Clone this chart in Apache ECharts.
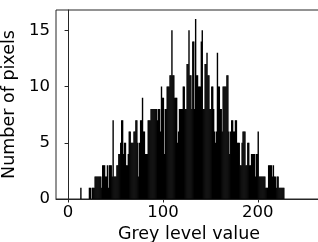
<!DOCTYPE html>
<html>
<head>
<meta charset="utf-8">
<script src="https://cdn.jsdelivr.net/npm/echarts@6/dist/echarts.min.js"></script>
<style>
  html, body { margin: 0; padding: 0; background: #fff; }
  #hist { width: 318px; height: 242px; }
</style>
</head>
<body>
<div id="hist"></div>
<script>
// pixel count for each grey level 0..255
var pixelCounts = [
  0,0,0,0,0,0,0,0,0,0,0,0,0,1,0,0,
  0,0,0,0,0,0,1,1,0,1,1,1,2,2,2,2,
  2,2,2,1,3,3,3,2,2,3,1,3,3,3,2,7,
  2,2,2,3,3,4,4,5,7,7,4,5,5,3,3,4,
  6,6,5,5,5,6,6,7,7,5,2,5,7,7,9,6,
  6,4,4,4,7,7,7,8,8,8,8,8,8,8,7,8,
  8,6,10,9,9,4,8,8,10,10,10,11,11,15,11,11,
  9,9,9,5,6,8,8,8,8,10,10,8,8,12,12,15,
  11,11,8,14,14,8,16,11,11,10,10,10,14,15,8,8,
  12,12,13,11,11,8,8,10,10,8,6,5,6,13,10,10,
  8,8,6,10,10,10,10,11,11,6,4,6,7,7,6,6,
  7,7,5,5,5,3,3,5,6,6,6,3,3,5,5,3,
  3,4,4,4,4,2,4,4,6,2,2,2,2,2,2,2,
  1,1,1,3,3,3,3,2,3,2,2,1,2,2,1,1,
  1,1,1,1,0,0,0,0,0,0,0,0,0,0,0,0,
  0,0,0,0,0,0,0,0,0,0,0,0,0,0,0,0
]
var xTicks = [0, 100, 200]
var yTicks = [0, 5, 10, 15]

// bins are one grey level wide, bar sits at the bin centre
var data = []
for (var g = 0; g < pixelCounts.length; g++) {
  data.push([g + 0.5, pixelCounts[g]])
}

var font = 'DejaVu Sans'
var spine = '#262626'

var chart = echarts.init(document.getElementById('hist'))
chart.setOption({
  animation: false,
  backgroundColor: '#fff',
  grid: {
    left: 56, top: 10, width: 266, height: 189,
    outerBoundsMode: 'none',
    containLabel: false,
    show: true, borderColor: spine, borderWidth: 1, backgroundColor: 'transparent'
  },
  xAxis: {
    type: 'value',
    min: -12.75,
    max: 267.75,
    name: 'Grey level value',
    nameLocation: 'middle',
    nameGap: 20,
    nameTextStyle: { fontFamily: font, fontSize: 17.5, color: '#000' },
    axisLine: { show: true, lineStyle: { color: spine, width: 1 } },
    axisTick: { show: true, length: 3.5, lineStyle: { color: spine }, customValues: xTicks },
    axisLabel: { fontFamily: font, fontSize: 16.5, color: '#000', margin: 5, customValues: xTicks },
    splitLine: { show: false }
  },
  yAxis: {
    type: 'value',
    min: 0,
    max: 16.8,
    name: 'Number of pixels',
    nameLocation: 'middle',
    nameGap: 27,
    nameTextStyle: { fontFamily: font, fontSize: 17.5, color: '#000' },
    axisLine: { show: true, lineStyle: { color: spine, width: 1 } },
    axisTick: { show: true, length: 3.5, lineStyle: { color: spine }, customValues: yTicks },
    axisLabel: { fontFamily: font, fontSize: 16.5, color: '#000', margin: 6, customValues: yTicks },
    splitLine: { show: false }
  },
  series: [{
    type: 'bar',
    data: data,
    barWidth: 1.4,
    itemStyle: { color: '#000' },
    silent: true
  }]
})
</script>
</body>
</html>
